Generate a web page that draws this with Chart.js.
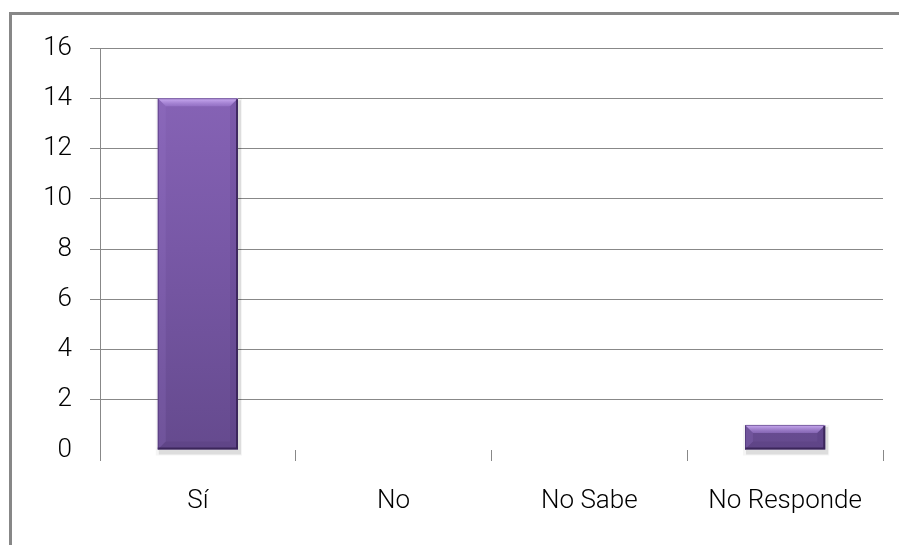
<!DOCTYPE html>
<html>
<head>
<meta charset="utf-8">
<script src="https://cdn.jsdelivr.net/npm/chart.js@4"></script>
<style>
  html, body { margin: 0; padding: 0; background: #fff; }
  #wrap { position: relative; width: 899px; height: 545px; overflow: hidden; }
  #frame { position: absolute; left: 9px; top: 12px; width: 900px; height: 600px; border: 3px solid #878787; box-sizing: border-box; }
  canvas { position: absolute; left: 0; top: 0; }
</style>
</head>
<body>
<div id="wrap">
  <div id="frame"></div>
  <canvas id="chart" width="899" height="545"></canvas>
</div>
<script>
const categories = ["Sí", "No", "No Sabe", "No Responde"];
const counts = [14, 0, 0, 1];
const yTicks = [0, 2, 4, 6, 8, 10, 12, 14, 16];

const gridColor = "#888888";
const labelFont = { family: "Roboto, 'Open Sans', sans-serif", size: 26, weight: 300 };

// vertical gradient for the bars
function barFill(context) {
  const area = context.chart.chartArea;
  if (!area) return "#7c5aa8";
  const g = context.chart.ctx.createLinearGradient(0, area.top, 0, area.bottom);
  g.addColorStop(0, "#8a66ba");
  g.addColorStop(0.5, "#7858a6");
  g.addColorStop(1, "#654a8e");
  return g;
}

// bevel highlight + soft shadow around every bar
const bevel = {
  id: "bevel",
  beforeDatasetsDraw(chart) {
    const ctx = chart.ctx;
    chart.getDatasetMeta(0).data.forEach(bar => {
      const { x, y, base, width } = bar.getProps(["x", "y", "base", "width"], true);
      if (base - y < 1) return;
      const l = x - width / 2;
      ctx.save();
      ctx.fillStyle = "rgba(0,0,0,0.10)";
      ctx.fillRect(l + 1, y + 2, width + 2, base - y + 3);
      ctx.fillStyle = "rgba(0,0,0,0.04)";
      ctx.fillRect(l - 2, y, width + 6, base - y + 6);
      ctx.restore();
    });
  },
  afterDatasetsDraw(chart) {
    const ctx = chart.ctx;
    chart.getDatasetMeta(0).data.forEach(bar => {
      const { x, y, base, width } = bar.getProps(["x", "y", "base", "width"], true);
      const h = base - y;
      if (h < 1) return;
      const l = x - width / 2, r = x + width / 2;
      const b = Math.min(8, h / 3);
      ctx.save();
      // top bevel
      let g = ctx.createLinearGradient(0, y, 0, y + b);
      g.addColorStop(0, "rgba(210,180,248,0.95)");
      g.addColorStop(1, "rgba(160,125,210,0.55)");
      ctx.fillStyle = g;
      ctx.beginPath();
      ctx.moveTo(l, y); ctx.lineTo(r, y); ctx.lineTo(r - b, y + b); ctx.lineTo(l + b, y + b);
      ctx.closePath(); ctx.fill();
      // left bevel
      ctx.fillStyle = "rgba(160,125,210,0.18)";
      ctx.beginPath();
      ctx.moveTo(l, y); ctx.lineTo(l + b, y + b); ctx.lineTo(l + b, base - b); ctx.lineTo(l, base);
      ctx.closePath(); ctx.fill();
      // right bevel
      ctx.fillStyle = "rgba(60,35,95,0.12)";
      ctx.beginPath();
      ctx.moveTo(r, y); ctx.lineTo(r - b, y + b); ctx.lineTo(r - b, base - b); ctx.lineTo(r, base);
      ctx.closePath(); ctx.fill();
      // bottom bevel
      ctx.fillStyle = "rgba(55,35,90,0.12)";
      ctx.beginPath();
      ctx.moveTo(l, base); ctx.lineTo(l + b, base - b); ctx.lineTo(r - b, base - b); ctx.lineTo(r, base);
      ctx.closePath(); ctx.fill();
      // darker right and bottom edge
      ctx.strokeStyle = "rgba(50,30,80,0.8)";
      ctx.lineWidth = 2;
      ctx.beginPath();
      ctx.moveTo(r - 1, y + 1); ctx.lineTo(r - 1, base - 1); ctx.lineTo(l, base - 1);
      ctx.stroke();
      ctx.strokeStyle = "rgba(70,45,110,0.6)";
      ctx.lineWidth = 1;
      ctx.beginPath();
      ctx.moveTo(l + 0.5, base); ctx.lineTo(l + 0.5, y + 0.5); ctx.lineTo(r - 1, y + 0.5);
      ctx.stroke();
      ctx.restore();
    });
  }
};

new Chart(document.getElementById("chart"), {
  type: "bar",
  data: {
    labels: categories,
    datasets: [{
      data: counts,
      backgroundColor: barFill,
      borderWidth: 0,
      barPercentage: 0.82,
      categoryPercentage: 0.5
    }]
  },
  options: {
    responsive: false,
    animation: false,
    layout: { padding: { top: 48, right: 16, left: 0, bottom: 0 } },
    plugins: { legend: { display: false }, tooltip: { enabled: false } },
    scales: {
      x: {
        offset: true,
        border: { display: false },
        grid: {
          offset: true,
          drawOnChartArea: false,
          drawTicks: true,
          tickLength: 11,
          color: gridColor,
          lineWidth: 1
        },
        ticks: { color: "#000", font: labelFont, padding: 25 },
        afterFit(scale) { scale.height = 95; }
      },
      y: {
        min: 0,
        max: 16,
        afterBuildTicks(scale) { scale.ticks = yTicks.map(v => ({ value: v })); },
        border: { display: true, color: gridColor, width: 1 },
        grid: {
          color: ctx => (ctx.tick && ctx.tick.value === 0 ? "rgba(0,0,0,0)" : gridColor),
          lineWidth: 1,
          tickLength: 10
        },
        ticks: { color: "#000", font: labelFont, padding: 18 },
        afterFit(scale) { scale.width = 100; }
      }
    }
  },
  plugins: [bevel]
});
</script>
</body>
</html>
